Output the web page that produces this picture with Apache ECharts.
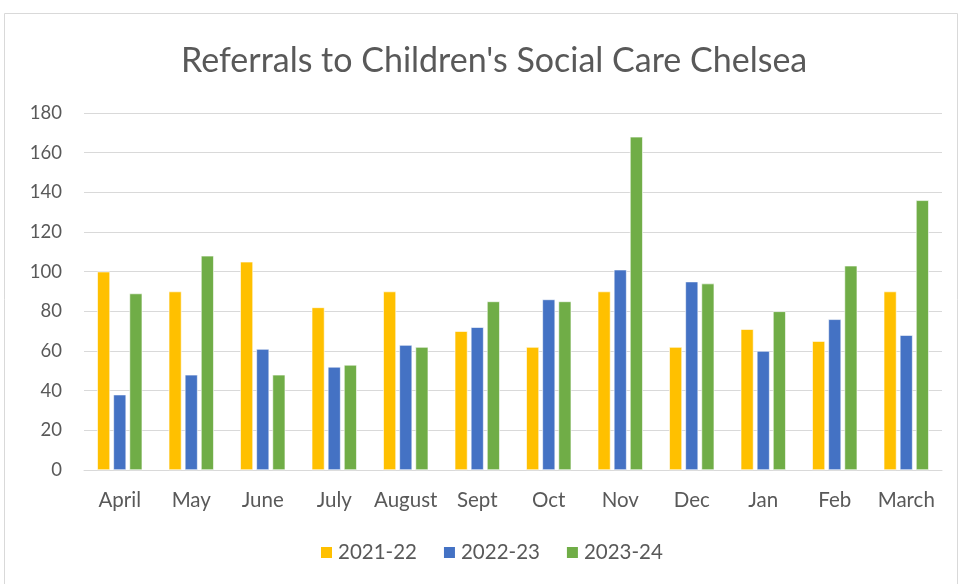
<!DOCTYPE html>
<html><head><meta charset="utf-8">
<script src="https://cdn.jsdelivr.net/npm/echarts@6/dist/echarts.min.js"></script>
<style>html,body{margin:0;padding:0;background:#fff}#c{width:961px;height:584px}</style>
</head><body><div id="c"></div>
<script>
const categories = ['April','May','June','July','August','Sept','Oct','Nov','Dec','Jan','Feb','March'];
const s2021 = [100,90,105,82,90,70,62,90,62,71,65,90];
const s2022 = [38,48,61,52,63,72,86,101,95,60,76,68];
const s2023 = [89,108,48,53,62,85,85,168,94,80,103,136];
const yTicks = [0,20,40,60,80,100,120,140,160,180];

const font = 'Lato, "Open Sans", sans-serif';
const chart = echarts.init(document.getElementById('c'));
const mk = (name, data, color) => ({
  name, type:'bar', data, barGap:'26%', barCategoryGap:'37%',
  itemStyle:{color, borderColor:'#fff', borderWidth:0.6}
});
chart.setOption({
  animation:false,
  graphic:[{type:'rect', shape:{x:4.5,y:13.5,width:953,height:580}, style:{fill:'none', stroke:'#d9d9d9', lineWidth:1}}],
  title:{text:"Referrals to Children's Social Care Chelsea", left:176, top:39,
    textStyle:{fontFamily:font, fontSize:34, fontWeight:'normal', color:'#595959'}},
  grid:{left:84, right:19, top:113, bottom:114},
  legend:{bottom:16, left:314, itemWidth:13, itemHeight:13, itemGap:25,
    icon:'rect', textStyle:{fontFamily:font, fontSize:20.5, color:'#595959'},
    data:['2021-22','2022-23','2023-24']},
  xAxis:{type:'category', data:categories,
    axisLine:{lineStyle:{color:'#d9d9d9', width:1}}, axisTick:{show:false},
    axisLabel:{interval:0, fontFamily:font, fontSize:20.5, color:'#595959', margin:20}},
  yAxis:{type:'value', min:yTicks[0], max:yTicks[yTicks.length-1], interval:20,
    axisLine:{show:false}, axisTick:{show:false},
    splitLine:{lineStyle:{color:'#d9d9d9', width:1}},
    axisLabel:{fontFamily:font, fontSize:18.5, color:'#595959', margin:22}},
  series:[mk('2021-22', s2021, '#FFC000'), mk('2022-23', s2022, '#4472C4'), mk('2023-24', s2023, '#70AD47')]
});
</script></body></html>
